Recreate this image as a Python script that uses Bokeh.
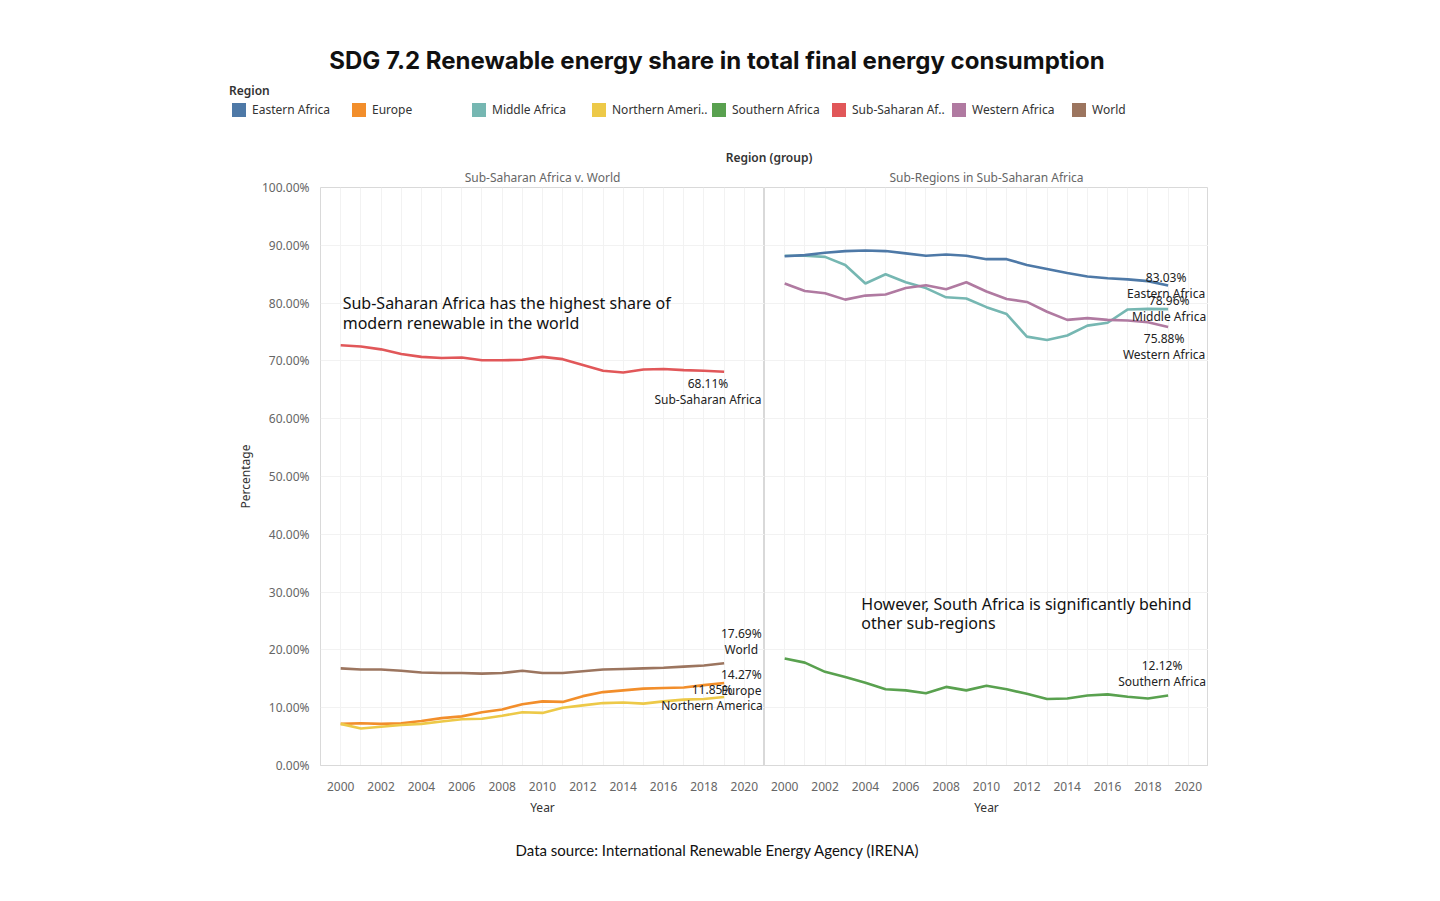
from bokeh.plotting import figure
from bokeh.models import Div, Row, Column, Spacer, PrintfTickFormatter, SingleIntervalTicker
from bokeh.core.properties import value
from bokeh.embed import file_html
from bokeh.resources import INLINE

years = list(range(2000, 2020))

ssa = [72.7, 72.5, 72.0, 71.2, 70.7, 70.5, 70.6, 70.1, 70.1, 70.2, 70.7, 70.3, 69.3, 68.3, 68.0, 68.5, 68.6, 68.4, 68.3, 68.11]
world = [16.8, 16.6, 16.6, 16.4, 16.1, 16.0, 16.0, 15.9, 16.0, 16.4, 16.0, 16.0, 16.3, 16.6, 16.7, 16.8, 16.9, 17.1, 17.3, 17.69]
europe = [7.2, 7.3, 7.2, 7.3, 7.7, 8.2, 8.5, 9.2, 9.7, 10.6, 11.1, 11.0, 12.0, 12.7, 13.0, 13.3, 13.4, 13.5, 13.9, 14.27]
n_america = [7.2, 6.4, 6.7, 7.0, 7.2, 7.6, 8.0, 8.1, 8.6, 9.2, 9.1, 10.0, 10.4, 10.8, 10.9, 10.7, 11.1, 11.4, 11.5, 11.85]
eastern = [88.1, 88.3, 88.7, 89.0, 89.1, 89.0, 88.6, 88.2, 88.4, 88.2, 87.6, 87.6, 86.6, 85.9, 85.2, 84.6, 84.3, 84.1, 83.8, 83.03]
middle = [88.2, 88.2, 88.0, 86.6, 83.4, 85.0, 83.6, 82.6, 81.0, 80.8, 79.3, 78.1, 74.2, 73.6, 74.4, 76.1, 76.6, 78.9, 79.0, 78.96]
western = [83.4, 82.1, 81.7, 80.6, 81.3, 81.5, 82.6, 83.1, 82.4, 83.6, 82.0, 80.7, 80.2, 78.5, 77.1, 77.4, 77.1, 77.0, 76.7, 75.88]
southern = [18.5, 17.8, 16.2, 15.3, 14.3, 13.2, 13.0, 12.5, 13.6, 13.0, 13.8, 13.2, 12.4, 11.5, 11.6, 12.1, 12.3, 11.9, 11.6, 12.12]

legend_names = ["Eastern Africa", "Europe", "Middle Africa", "Northern Ameri..", "Southern Africa",
                "Sub-Saharan Af..", "Western Africa", "World"]
colors = {"Eastern Africa": "#4e79a7", "Europe": "#f28e2b", "Middle Africa": "#76b7b2",
          "Northern America": "#edc948", "Southern Africa": "#59a14f", "Sub-Saharan Africa": "#e15759",
          "Western Africa": "#b07aa1", "World": "#9c755f"}
legend_colors = ["#4e79a7", "#f28e2b", "#76b7b2", "#edc948", "#59a14f", "#e15759", "#b07aa1", "#9c755f"]

left_series = [("World", world), ("Europe", europe), ("Northern America", n_america), ("Sub-Saharan Africa", ssa)]
right_series = [("Middle Africa", middle), ("Western Africa", western), ("Eastern Africa", eastern), ("Southern Africa", southern)]

# end labels: (value text, name, x centre, y of first line)
left_labels = [("68.11%", "Sub-Saharan Africa", 2018.2, 66.1), ("17.69%", "World", 2019.85, 22.8),
               ("14.27%", "Europe", 2019.85, 15.7), ("11.85%", "Northern America", 2018.4, 13.1)]
right_labels = [("83.03%", "Eastern Africa", 2018.9, 84.4), ("78.96%", "Middle Africa", 2019.05, 80.4),
                ("75.88%", "Western Africa", 2018.8, 73.9), ("12.12%", "Southern Africa", 2018.7, 17.3)]
LINE_GAP = 2.77  # 16px in data units

FONT = "Noto Sans"


def make_fig(title, with_yaxis):
    p = figure(width=532 if with_yaxis else 444, height=652, frame_width=444, frame_height=578,
               x_range=(1999, 2021), y_range=(0, 100), output_backend="svg", toolbar_location=None,
               min_border_left=88 if with_yaxis else 0, min_border_right=0, min_border_top=0,
               min_border_bottom=10, title=title)
    p.title.align = "center"
    p.title.text_font = FONT
    p.title.text_font_size = "12px"
    p.title.text_font_style = "normal"
    p.title.text_color = "#666666"
    p.title.standoff = 4
    p.outline_line_color = "#d9d9d9"
    p.xaxis.ticker = SingleIntervalTicker(interval=2)
    p.xaxis.axis_label = "Year"
    p.yaxis.ticker = SingleIntervalTicker(interval=10)
    p.yaxis.formatter = PrintfTickFormatter(format="%.2f%%")
    p.yaxis.axis_label = "Percentage"
    for ax in (p.xaxis, p.yaxis):
        ax.major_label_text_font = FONT
        ax.major_label_text_font_size = "12px"
        ax.major_label_text_color = "#666666"
        ax.axis_label_text_font = FONT
        ax.axis_label_text_font_size = "12px"
        ax.axis_label_text_font_style = "normal"
        ax.axis_label_text_color = "#333333"
        ax.major_tick_line_color = None
        ax.minor_tick_line_color = None
        ax.axis_line_color = "#d9d9d9"
    p.xaxis.major_label_standoff = 10
    p.yaxis.axis_line_color = None
    if not with_yaxis:
        p.yaxis.visible = False
    p.xgrid.ticker = SingleIntervalTicker(interval=1)
    p.xgrid.grid_line_color = "#f2f2f2"
    p.ygrid.grid_line_color = "#f2f2f2"
    return p


left = make_fig("Sub-Saharan Africa v. World", True)
right = make_fig("Sub-Regions in Sub-Saharan Africa", False)

for p, series, labels in ((left, left_series, left_labels), (right, right_series, right_labels)):
    for name, vals in series:
        p.line(years, vals, line_color=colors[name], line_width=2.6)
    xs = [l[2] for l in labels] * 2
    ys = [l[3] for l in labels] + [l[3] - LINE_GAP for l in labels]
    txt = [l[0] for l in labels] + [l[1] for l in labels]
    p.text(x=xs, y=ys, text=txt, text_align="center", text_baseline="middle", text_font=value(FONT),
           text_font_size="12px", text_color="#222222")

left.text(x=[2000.1, 2000.1], y=[80.1, 76.6],
          text=["Sub-Saharan Africa has the highest share of", "modern renewable in the world"],
          text_align="left", text_baseline="middle", text_font=value(FONT), text_font_size="16px",
          text_color="#111111")
right.text(x=[2003.8, 2003.8], y=[28.0, 24.6],
           text=["However, South Africa is significantly behind", "other sub-regions"],
           text_align="left", text_baseline="middle", text_font=value(FONT), text_font_size="16px",
           text_color="#111111")

title = Div(text='<div style="width:1424px;text-align:center;font:700 24px Inter, sans-serif;'
                 'color:#111;padding-top:41px">SDG 7.2 Renewable energy share in total final energy consumption</div>',
            width=1424, height=62)

items = "".join(
    f'<div style="position:absolute;left:{227 + 120 * i}px;top:24px;display:flex;align-items:center;'
    f'font:12px Noto Sans;color:#333"><span style="display:inline-block;width:14px;height:14px;'
    f'background:{c};margin-right:6px"></span>{n}</div>'
    for i, (n, c) in enumerate(zip(legend_names, legend_colors)))
legend = Div(text='<div style="position:relative;width:1424px;height:62px">'
                  '<div style="position:absolute;left:224px;top:5px;font:600 12px Noto Sans;color:#333">Region</div>'
                  + items + '</div>', width=1424, height=62)

header = Div(text='<div style="width:888px;text-align:center;font:600 12px Noto Sans;color:#333">Region (group)</div>',
             width=1424, height=10, styles={"padding-left": "320px"})

source = Div(text='<div style="width:1424px;text-align:center;font:15px Lato, sans-serif;color:#111;padding-top:18px">'
                  'Data source: International Renewable Energy Agency (IRENA)</div>', width=1424, height=50)

layout = Column(title, legend, header, Row(Spacer(width=232), left, right), source)

open("out.html", "w").write(file_html(layout, INLINE))
